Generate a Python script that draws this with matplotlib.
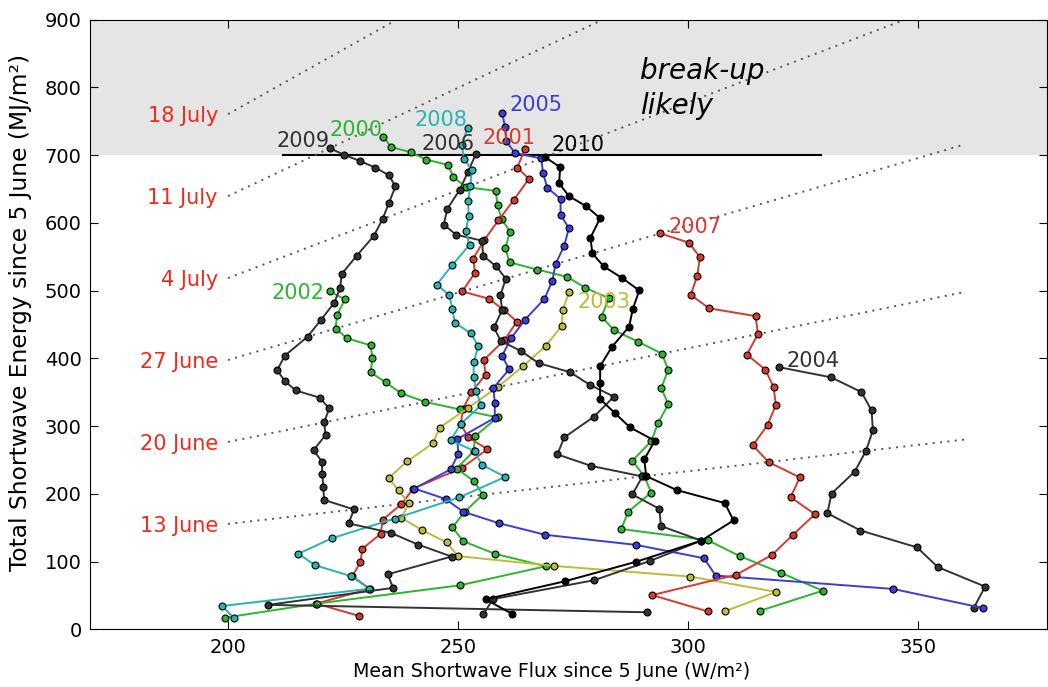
import matplotlib
matplotlib.use("Agg")
import matplotlib.pyplot as plt

# 1 W/m^2 sustained for one day = 0.0864 MJ/m^2
MJ_PER_WDAY = 0.0864

# Mean shortwave flux since 5 June (W/m^2), one value per day (day 1 = first point)
flux_2000 = [315.6, 329.3, 320.3, 311.4, 304.3, 285.5, 287.0, 292.0, 290.5, 287.9,
             292.0, 293.5, 295.7, 294.2, 295.7, 294.3, 289.1, 283.9, 281.2, 282.8,
             277.7, 273.7, 267.2, 261.2, 260.3, 261.3, 259.5, 258.6, 258.2, 251.8,
             249.0, 247.9, 243.1, 239.7, 235.4, 233.8]
flux_2001 = [228.5, 219.2, 230.8, 227.0, 228.8, 229.2, 233.2, 233.6, 237.7, 240.3,
             250.9, 256.4, 252.2, 250.6, 251.1, 252.9, 256.0, 255.6, 260.1, 262.8,
             259.9, 256.7, 250.9, 253.7, 253.3, 255.7, 258.8, 262.2, 265.4, 262.9,
             264.5]
flux_2002 = [199.4, 219.3, 250.4, 269.1, 258.0, 251.1, 248.8, 251.5, 255.4, 253.4,
             249.7, 253.4, 253.7, 258.6, 250.4, 242.8, 237.5, 234.3, 231.0, 231.4,
             231.0, 225.9, 223.4, 223.7, 225.4, 222.1]
flux_2003 = [308.0, 319.2, 300.4, 270.8, 250.0, 247.5, 242.2, 237.7, 239.3, 237.1,
             234.9, 238.9, 244.6, 246.0, 252.2, 258.6, 264.1, 269.1, 272.5, 272.8,
             274.1]
flux_2004 = [362.1, 364.6, 354.3, 349.8, 337.5, 330.3, 331.2, 336.2, 338.7, 340.2,
             339.9, 337.7, 331.1, 319.8]
flux_2005 = [364.1, 344.6, 306.0, 303.5, 288.6, 269.0, 258.9, 251.1, 247.3, 240.5,
             248.4, 250.1, 249.8, 258.0, 258.0, 257.7, 261.1, 259.6, 261.5, 264.6,
             268.8, 270.5, 271.2, 273.1, 274.1, 272.3, 272.3, 269.4, 268.5, 268.1,
             262.4, 260.5, 260.2, 259.6]
flux_2006 = [255.5, 257.6, 279.6, 291.7, 302.9, 294.1, 293.8, 287.9, 290.1, 279.0,
             271.6, 273.1, 279.6, 283.9, 278.6, 274.4, 267.5, 263.8, 259.3, 257.8,
             259.6, 259.2, 260.4, 258.3, 255.4, 255.3, 249.6, 246.9, 247.7, 250.4,
             252.2, 253.9]
flux_2007 = [304.3, 292.2, 310.5, 318.3, 322.8, 327.6, 322.3, 324.3, 317.5, 314.1,
             317.3, 319.1, 318.6, 316.8, 312.8, 315.2, 314.7, 304.6, 300.6, 302.0,
             302.6, 300.2, 294.0]
flux_2008 = [201.2, 198.7, 230.7, 226.8, 218.9, 215.3, 222.7, 236.2, 250.2, 260.3,
             255.2, 253.6, 248.4, 250.6, 255.0, 254.0, 253.4, 253.4, 254.4, 252.8,
             249.3, 248.8, 248.1, 245.4, 248.7, 252.5, 251.7, 252.3, 252.2, 252.7,
             253.0, 251.3, 250.8, 252.1]
flux_2009 = [291.0, 208.7, 235.9, 234.7, 248.6, 241.3, 235.4, 226.2, 227.4, 220.9,
             220.7, 220.5, 220.4, 218.6, 221.2, 220.9, 222.0, 219.9, 214.7, 212.3,
             210.7, 212.3, 217.3, 220.2, 223.1, 224.4, 224.7, 228.0, 231.7, 233.6,
             235.0, 236.4, 235.0, 232.0, 228.6, 225.2, 222.1]
flux_2010 = [261.8, 256.0, 273.2, 288.8, 302.9, 309.9, 308.0, 297.5, 290.9, 290.5,
             292.8, 287.4, 284.1, 280.9, 280.9, 280.9, 283.4, 287.2, 288.0, 289.4,
             285.7, 281.7, 279.2, 278.8, 280.9, 277.9, 274.1, 272.0, 272.2, 268.9]

years = ["2000", "2001", "2002", "2003", "2004", "2005", "2006", "2007", "2008", "2009", "2010"]
colors = ["#2db52d", "#d63a30", "#2db52d", "#bcbc3a", "#333333", "#3c3cd8", "#333333",
          "#d63a30", "#2ab3b3", "#333333", "#000000"]
# year label anchor (left, baseline) in data coordinates
label_x = [222.1, 255.4, 209.4, 276.0, 321.5, 261.1, 242.0, 295.7, 240.6, 210.5, 270.3]
label_y = [727.7, 716.3, 487.5, 473.8, 387.6, 764.6, 707.9, 584.5, 742.4, 711.4, 706.4]

# dotted date lines: day count since 5 June (inclusive)
date_days = [9, 16, 23, 30, 37, 44]
date_labels = ["13 June", "20 June", "27 June", "4 July", "11 July", "18 July"]
date_flux_range = [200, 360]

fluxes = {"2000": flux_2000, "2001": flux_2001, "2002": flux_2002, "2003": flux_2003,
          "2004": flux_2004, "2005": flux_2005, "2006": flux_2006, "2007": flux_2007,
          "2008": flux_2008, "2009": flux_2009, "2010": flux_2010}

fig = plt.figure(figsize=(10.48, 6.87), dpi=100)
ax = fig.add_axes([90 / 1048, 1 - 629.3 / 687, (1046.8 - 90) / 1048, (629.3 - 19.5) / 687])

ax.axhspan(700, 900, color="#e5e5e5", lw=0, zorder=0)
ax.plot([212, 329], [700, 700], color="black", lw=1.5, zorder=1)

red = "#f02a1c"
for d, lab in zip(date_days, date_labels):
    ys = [f * d * MJ_PER_WDAY for f in date_flux_range]
    ax.plot(date_flux_range, ys, color="#555555", lw=1.4, ls=(0, (1, 2.8)), zorder=1)
    ax.text(197.8, ys[0] - 11.5, lab, color=red, fontsize=15, ha="right", va="baseline")

for yr, c, lx, ly in zip(years, colors, label_x, label_y):
    fx = fluxes[yr]
    days = range(1, len(fx) + 1)
    energy = [f * n * MJ_PER_WDAY for f, n in zip(fx, days)]
    ax.plot(fx, energy, color=c, lw=1.4, marker="o", ms=5, mfc=c, mec="black",
            mew=0.8, zorder=3)
    ax.text(lx, ly, yr, color=c, fontsize=15, ha="left", va="baseline", zorder=4)

ax.text(289.5, 798, "break-up\nlikely", fontsize=20, style="italic", ha="left",
        va="center", linespacing=1.3)

ax.set_xlim(170, 378)
ax.set_ylim(0, 900)
ax.set_xticks([200, 250, 300, 350])
ax.set_yticks(range(0, 901, 100))
ax.tick_params(direction="in", top=True, right=True, length=6, labelsize=14, pad=6)
ax.set_xlabel("Mean Shortwave Flux since 5 June (W/m²)", fontsize=13.7)
ax.set_ylabel("Total Shortwave Energy since 5 June (MJ/m²)", fontsize=16.8)
ax.xaxis.set_label_coords(0.482, -0.053)
ax.yaxis.set_label_coords(-0.061, 0.52)

fig.savefig("out.png", dpi=100)
